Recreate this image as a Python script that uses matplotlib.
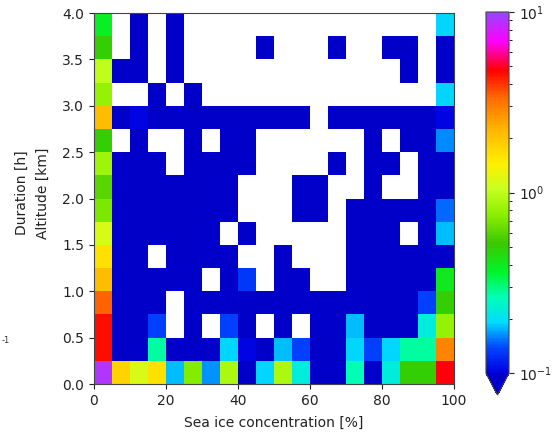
import numpy as np
import matplotlib
matplotlib.use("Agg")
import matplotlib.pyplot as plt
from matplotlib.colors import LinearSegmentedColormap, LogNorm

# ---- data ----
sic_edges = np.arange(0, 105, 5)          # sea ice concentration bins [%]
alt_edges = np.arange(0, 4.25, 0.25)      # altitude bins [km]

B = 0.05      # below colour range (drawn in "under" colour)
W = np.nan    # no data (white)

# rows listed from the top (3.75-4.0 km) down to the bottom (0-0.25 km)
rows_top_down = [
    [0.38, W, B, W, B, W, W, W, W, W, W, W, W, W, W, W, W, W, W, 0.19],
    [0.50, W, B, W, B, W, W, W, W, B, W, W, W, B, W, W, B, B, W, B],
    [1.00, B, B, W, B, W, W, W, W, W, W, W, W, W, W, W, W, B, W, B],
    [0.80, W, W, B, W, B, W, W, W, W, W, W, W, W, W, W, W, W, W, 0.19],
    [2.10, B, 0.103, B, B, B, B, B, B, B, B, B, W, B, B, B, B, B, B, 0.103],
    [0.50, W, B, W, W, B, W, B, B, W, W, W, W, W, W, B, W, B, B, 0.16],
    [0.85, B, B, B, W, B, B, B, B, W, W, W, W, B, W, B, B, W, B, B],
    [0.60, B, B, B, B, B, B, B, W, W, W, B, B, W, W, B, W, W, B, B],
    [0.70, B, B, B, B, B, B, B, W, W, W, B, B, W, B, B, B, B, B, 0.15],
    [1.15, B, B, B, B, B, B, W, B, W, W, W, W, W, B, B, B, W, B, 0.18],
    [1.60, B, B, W, B, B, B, B, W, W, B, W, W, W, B, B, B, B, B, B],
    [2.10, B, B, B, B, B, W, B, 0.13, W, B, B, W, W, B, B, B, B, B, 0.40],
    [3.40, B, B, B, W, B, B, B, B, B, B, B, B, B, B, B, B, B, 0.135, 0.50],
    [4.60, B, B, 0.135, W, B, W, 0.135, B, W, B, W, B, B, 0.178, B, B, B, 0.224, 0.80],
    [4.60, B, B, 0.275, B, B, B, 0.19, 0.103, B, 0.178, 0.135, B, B, 0.19, 0.135, 0.19, 0.275, 0.275, 2.90],
    [9.10, 1.80, 1.15, 1.60, 0.178, 0.73, 0.165, 0.91, B, 0.19, 0.91, 0.224, B, B, 0.26, B, 0.224, 0.50, 0.50, 4.80],
]
values = np.flipud(np.array(rows_top_down, dtype=float))

x_ticks = [0, 20, 40, 60, 80, 100]
y_ticks = [0.0, 0.5, 1.0, 1.5, 2.0, 2.5, 3.0, 3.5, 4.0]

# ---- colour map ----
nodes = [
    (0.00, (0, 0, 225)),
    (0.07, (0, 70, 255)),
    (0.14, (0, 220, 255)),
    (0.21, (0, 255, 180)),
    (0.28, (0, 245, 40)),
    (0.36, (60, 200, 0)),
    (0.44, (140, 240, 0)),
    (0.51, (200, 255, 30)),
    (0.58, (255, 240, 0)),
    (0.67, (255, 185, 0)),
    (0.76, (255, 110, 0)),
    (0.84, (255, 0, 0)),
    (0.92, (255, 0, 255)),
    (1.00, (150, 70, 255)),
]
cmap = LinearSegmentedColormap.from_list(
    "custom", [(t, tuple(c / 255 for c in col)) for t, col in nodes])
cmap.set_under("#0000c8")
cmap.set_bad((1, 1, 1, 0))
norm = LogNorm(vmin=0.1, vmax=10)

# ---- figure ----
fig = plt.figure(figsize=(5.54, 4.36), dpi=100)
ax = fig.add_axes([94 / 554, 1 - 384 / 436, 360 / 554, 371 / 436])
mesh = ax.pcolormesh(sic_edges, alt_edges, values, cmap=cmap, norm=norm)
ax.set_xlim(0, 100)
ax.set_ylim(0, 4)
ax.set_xticks(x_ticks)
ax.set_yticks(y_ticks)
ax.set_yticklabels([f"{v:.1f}" for v in y_ticks])
ax.tick_params(labelsize=10, colors="#222222")
ax.set_xlabel("Sea ice concentration [%]", fontsize=10, color="#222222",
              labelpad=6)
for s in ax.spines.values():
    s.set_color("#444444")

fig.text(22 / 554, 1 - 193 / 436, "Duration [h]", rotation=90, fontsize=10,
         ha="center", va="center", color="#222222")
fig.text(43 / 554, 1 - 193 / 436, "Altitude [km]", rotation=90, fontsize=10,
         ha="center", va="center", color="#222222")
fig.text(0.002, 1 - 340 / 436, "-1", fontsize=6, color="#333333",
         ha="left", va="center")

cax = fig.add_axes([486 / 554, 1 - 395 / 436, 23 / 554, 383 / 436])
cb = fig.colorbar(mesh, cax=cax, extend="min", extendfrac=0.06)
cb.ax.tick_params(labelsize=10, colors="#222222")
cb.outline.set_edgecolor("#444444")

fig.savefig("out.png", dpi=100)
